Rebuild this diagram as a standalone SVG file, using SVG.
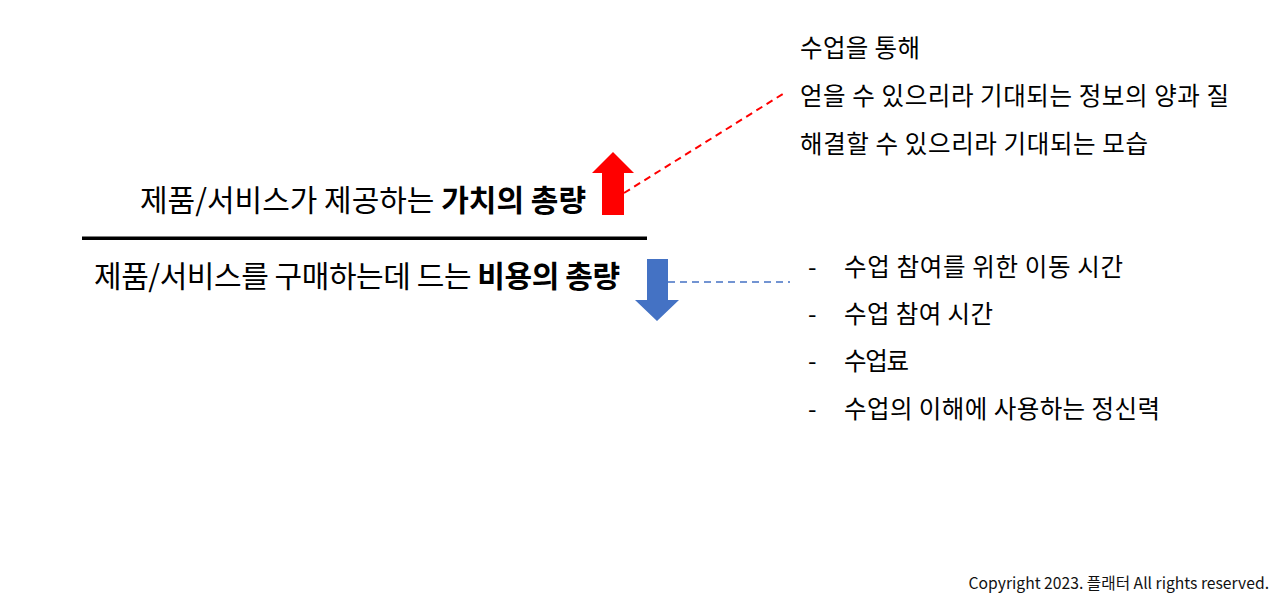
<svg xmlns="http://www.w3.org/2000/svg" width="1280" height="598" viewBox="0 0 1280 598">
<style>
text { font-family: "Noto Sans CJK KR", "Noto Sans", sans-serif; fill: #000; }
.main { font-size: 30px; }
.b { font-weight: bold; }
.note { font-size: 24.5px; }
.copy { font-size: 15.7px; fill: #111; }
</style>
<rect width="1280" height="598" fill="#fff"/>
<g id="connectors">
<line x1="624" y1="193" x2="786" y2="92" stroke="#ff0000" stroke-width="2" stroke-dasharray="7,5"/>
<line x1="668" y1="282" x2="790" y2="282" stroke="#4472c4" stroke-width="1.5" stroke-dasharray="7,5"/>
</g>
<g id="divider">
<rect x="82" y="236.5" width="565" height="3.5" fill="#000"/>
</g>
<g id="value-text">
<text class="main" x="140" y="211" textLength="446">제품/서비스가 제공하는 <tspan class="b">가치의 총량</tspan></text>
</g>
<g id="up-arrow">
<polygon points="613,152 634,173 624,173 624,215 602,215 602,173 592,173" fill="#ff0000"/>
</g>
<g id="cost-text">
<text class="main" x="94" y="287" textLength="526">제품/서비스를 구매하는데 드는 <tspan class="b">비용의 총량</tspan></text>
</g>
<g id="down-arrow">
<polygon points="647,259 668,259 668,300 679,300 657,321 635,300 647,300" fill="#4472c4"/>
</g>
<g id="value-notes">
<text class="note" x="800" y="57" textLength="120">수업을 통해</text>
<text class="note" x="800" y="105" textLength="429">얻을 수 있으리라 기대되는 정보의 양과 질</text>
<text class="note" x="800" y="153" textLength="348">해결할 수 있으리라 기대되는 모습</text>
</g>
<g id="cost-notes">
<text class="note" x="808" y="276">-</text>
<text class="note" x="844" y="276" textLength="279">수업 참여를 위한 이동 시간</text>
<text class="note" x="808" y="323">-</text>
<text class="note" x="844" y="323" textLength="149">수업 참여 시간</text>
<text class="note" x="808" y="370">-</text>
<text class="note" x="844" y="370" textLength="65">수업료</text>
<text class="note" x="808" y="418">-</text>
<text class="note" x="844" y="418" textLength="316">수업의 이해에 사용하는 정신력</text>
</g>
<g id="copyright">
<text class="copy" x="1269" y="589" text-anchor="end">Copyright 2023. 플래터 All rights reserved.</text>
</g>
</svg>
